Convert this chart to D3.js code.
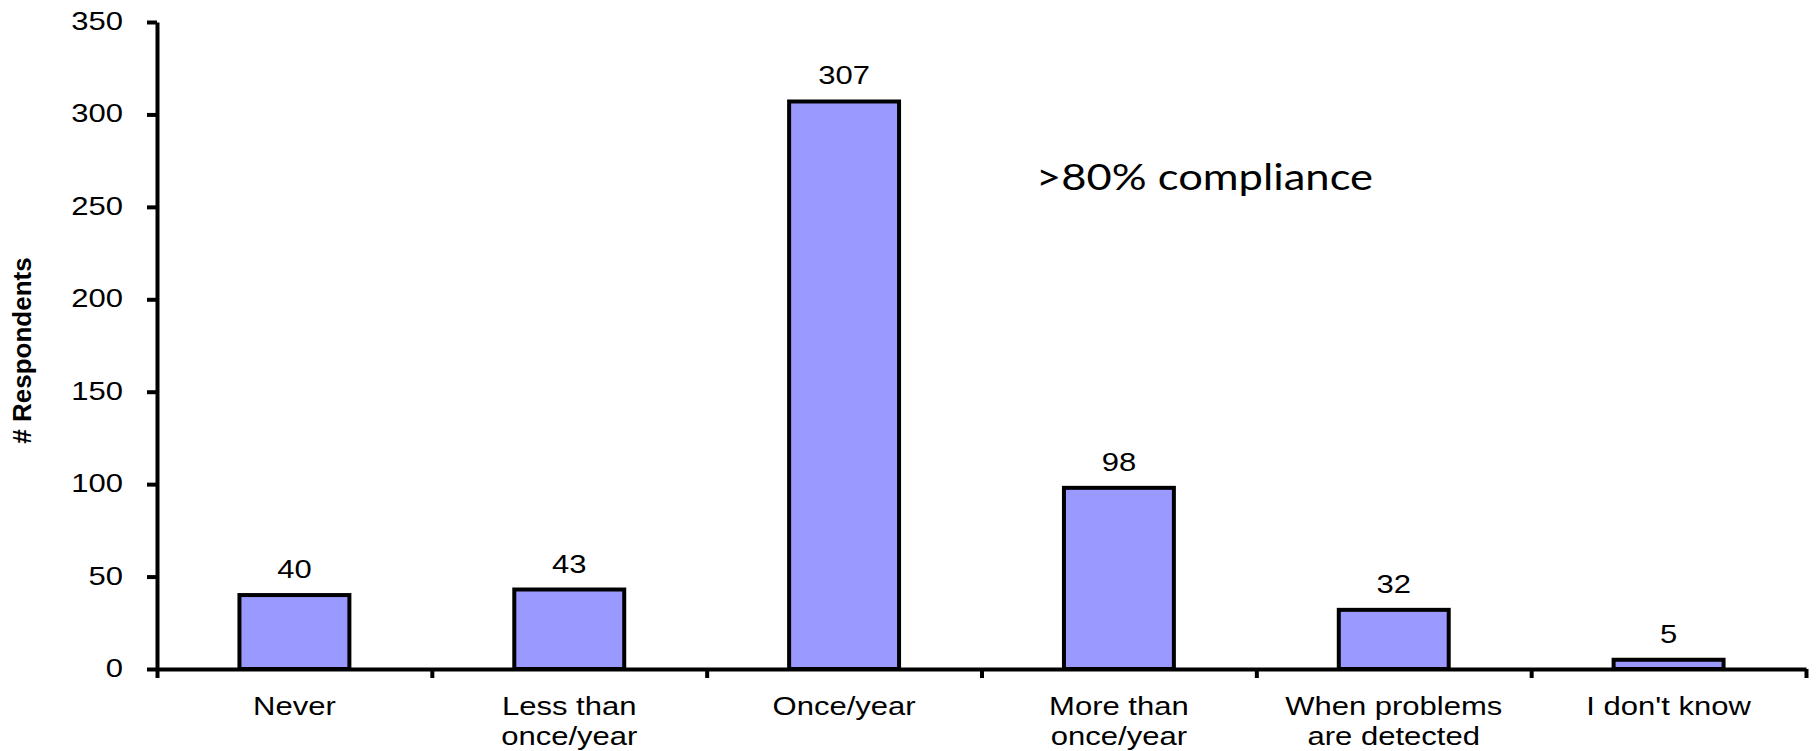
<!DOCTYPE html>
<html>
<head>
<meta charset="utf-8">
<script src="https://cdn.jsdelivr.net/npm/d3@7"></script>
<style>
  html, body { margin: 0; padding: 0; background: #fff; }
  svg { display: block; }
  text { font-family: "Liberation Sans", Arial, sans-serif; fill: #000; }
</style>
</head>
<body>
<svg id="chart" width="1820" height="751"></svg>
<script>
// Survey answers: how often respondents do it
const categories = ["Never", "Less than once/year", "Once/year", "More than once/year", "When problems are detected", "I don't know"];
const categoryLines = [["Never"], ["Less than", "once/year"], ["Once/year"], ["More than", "once/year"], ["When problems", "are detected"], ["I don't know"]];
const respondents = [40, 43, 307, 98, 32, 5];
const yTicks = [0, 50, 100, 150, 200, 250, 300, 350];
const yLabel = "# Respondents";
const note = ">80% compliance";

const W = 1820, H = 751;
const plot = { left: 157, right: 1806, top: 22, bottom: 669 };
const fontSize = 25;
const stretch = 1.24;            // text is drawn a little wider than its natural width
const barFill = "#9999ff";

const svg = d3.select("#chart");

const x = d3.scaleBand()
  .domain(categories)
  .range([plot.left, plot.right])
  .paddingInner(0.6)
  .paddingOuter(0.3);

const y = d3.scaleLinear()
  .domain([0, 350])
  .range([plot.bottom, plot.top]);

// widen a text node horizontally
function widen(sel) {
  sel.each(function () {
    const len = this.getComputedTextLength();
    d3.select(this).attr("textLength", len * stretch).attr("lengthAdjust", "spacingAndGlyphs");
  });
}

// bars
svg.append("g")
  .selectAll("rect")
  .data(respondents)
  .join("rect")
  .attr("x", (d, i) => x(categories[i]))
  .attr("y", d => y(d))
  .attr("width", x.bandwidth())
  .attr("height", d => y(0) - y(d))
  .attr("fill", barFill)
  .attr("stroke", "#000")
  .attr("stroke-width", 4);

// value labels
svg.append("g")
  .selectAll("text")
  .data(respondents)
  .join("text")
  .attr("x", (d, i) => x(categories[i]) + x.bandwidth() / 2)
  .attr("y", d => y(d) - 17)
  .attr("text-anchor", "middle")
  .style("font-size", fontSize + "px")
  .text(d => d)
  .call(widen);

// y axis
const yAxis = svg.append("g")
  .attr("transform", `translate(${plot.left},0)`)
  .call(d3.axisLeft(y).tickValues(yTicks).tickSize(10).tickSizeOuter(0).tickPadding(24));
yAxis.select(".domain").attr("stroke", "#000").attr("stroke-width", 4);
yAxis.selectAll(".tick line").attr("stroke", "#000").attr("stroke-width", 4);
yAxis.selectAll(".tick text")
  .attr("font-family", null)
  .attr("font-size", null)
  .style("font-size", fontSize + "px")
  .attr("dy", "0.3em")
  .call(widen);

// x axis: tick marks on the category boundaries
const xEdges = d3.scaleLinear().domain([0, categories.length]).range([plot.left, plot.right]);
const xAxis = svg.append("g")
  .attr("transform", `translate(0,${plot.bottom})`)
  .call(d3.axisBottom(xEdges).tickValues(d3.range(categories.length + 1)).tickSize(9).tickSizeOuter(0).tickFormat(""));
xAxis.select(".domain").attr("stroke", "#000").attr("stroke-width", 4);
xAxis.selectAll(".tick line").attr("stroke", "#000").attr("stroke-width", 4);

// category labels (wrapped)
const catLabels = svg.append("g")
  .selectAll("text")
  .data(categoryLines)
  .join("text")
  .attr("text-anchor", "middle")
  .style("font-size", fontSize + "px");
catLabels.each(function (lines, i) {
  const cx = x(categories[i]) + x.bandwidth() / 2;
  d3.select(this).selectAll("tspan")
    .data(lines)
    .join("tspan")
    .attr("x", cx)
    .attr("y", (l, j) => plot.bottom + 46 + j * 30)
    .text(l => l);
});
catLabels.selectAll("tspan").each(function () {
  const len = this.getComputedTextLength();
  d3.select(this).attr("textLength", len * stretch).attr("lengthAdjust", "spacingAndGlyphs");
});

// y axis title
svg.append("text")
  .attr("transform", `translate(31,${(plot.top + plot.bottom) / 2 + 5}) rotate(-90)`)
  .attr("text-anchor", "middle")
  .style("font-size", "25px")
  .style("font-weight", "bold")
  .text(yLabel)
  .call(function (sel) {
    const len = sel.node().getComputedTextLength();
    sel.attr("textLength", len * 1.04).attr("lengthAdjust", "spacingAndGlyphs");
  });

// annotation
svg.append("text")
  .attr("x", 1036)
  .attr("y", 190)
  .style("font-family", "Lato, 'Open Sans', sans-serif")
  .style("font-size", "36px")
  .text(note)
  .call(function (sel) {
    sel.attr("textLength", 337).attr("lengthAdjust", "spacingAndGlyphs");
  });
</script>
</body>
</html>
